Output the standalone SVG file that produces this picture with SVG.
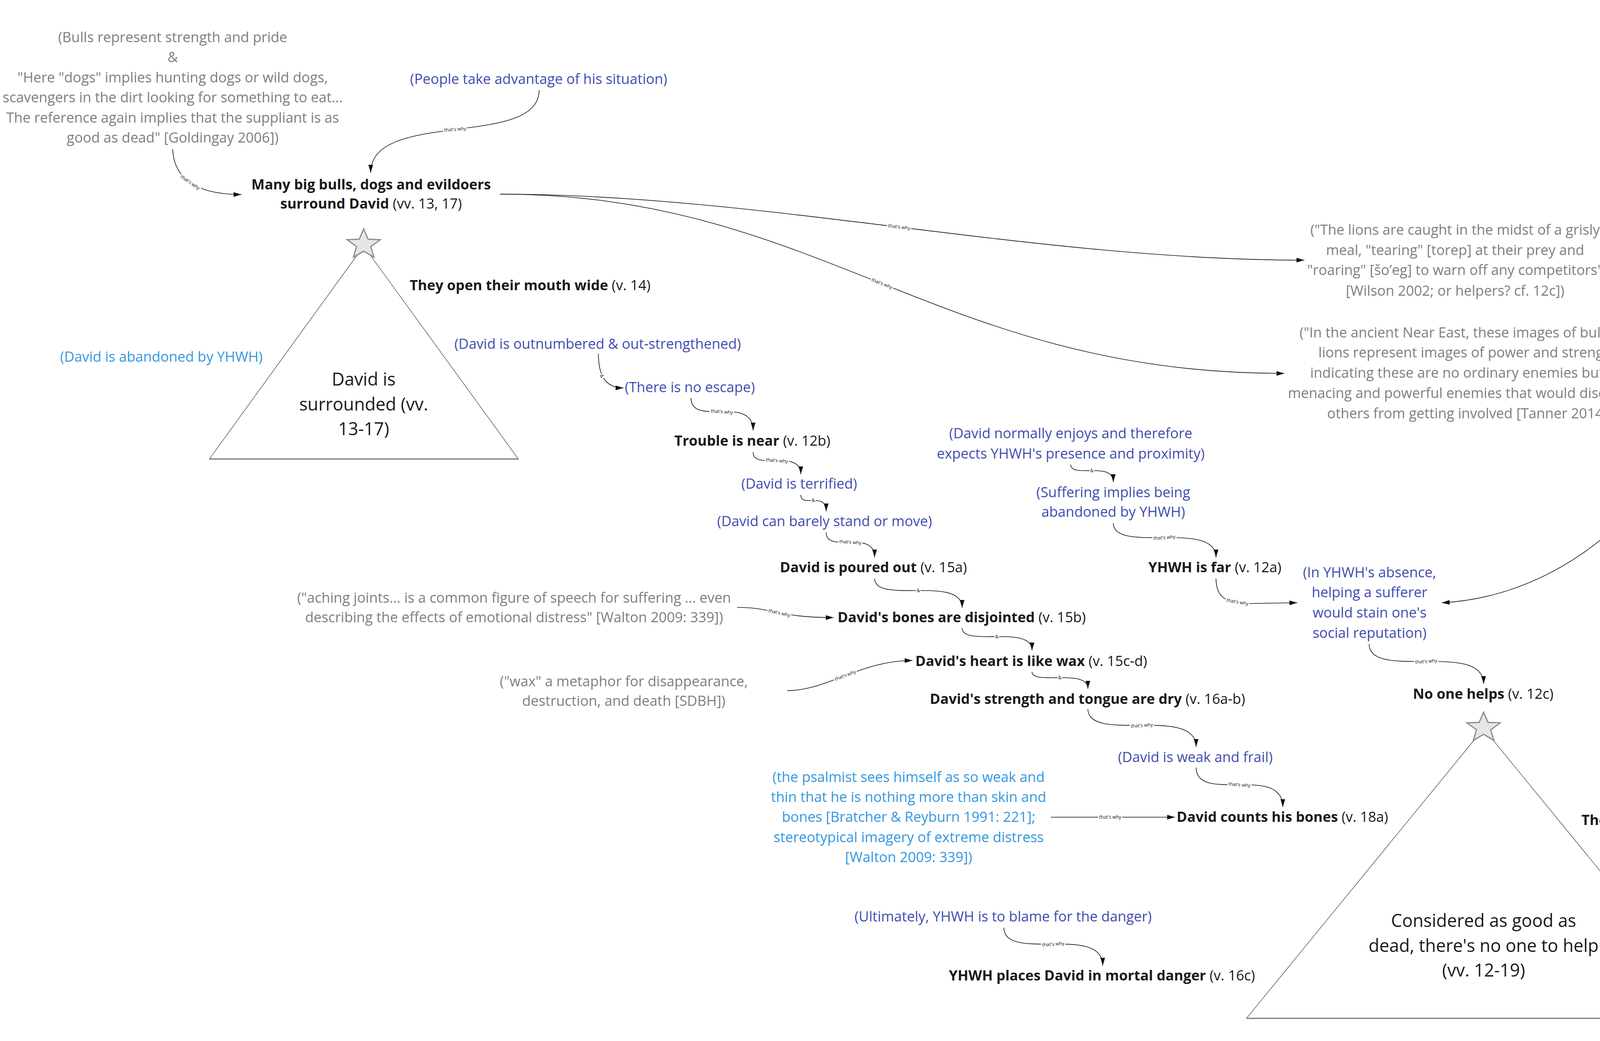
<svg xmlns="http://www.w3.org/2000/svg" xmlns:xlink="http://www.w3.org/1999/xlink" width="6002" height="2665" viewBox="0 0 6002 2665">
<style>
.t{font-family:"Open Sans","Liberation Sans",sans-serif;font-size:36px;text-anchor:middle}
.b{font-weight:700}
.k{fill:#1a1a1a}
.note{fill:#808080}
.ind{fill:#3f4db0}
.lb{fill:#3498e0}
.big{font-size:45px;fill:#1a1a1a}
.edge{fill:none;stroke:#111;stroke-width:1.6;marker-end:url(#ah)}
.lbl{font-family:"Open Sans","Liberation Sans",sans-serif;font-size:12px;text-anchor:middle;fill:#111}
.bg{fill:#fff}
.tri{fill:#fff;stroke:#444;stroke-width:1.3}
.base{stroke:#777;stroke-width:3}
.star{fill:#e6e6e6;stroke:#8a8a8a;stroke-width:3;stroke-linejoin:miter}
</style>
<defs>
<marker id="ah" markerUnits="userSpaceOnUse" markerWidth="22" markerHeight="12" refX="20" refY="6" orient="auto"><path d="M0,0 L20,6 L0,12 z" fill="#111"/></marker>
<path id="starshape" class="star" d="M0,-40 L11.2,-13.8 L42.6,-12.4 L18.1,5.3 L26.3,32.4 L0,17 L-26.3,32.4 L-18.1,5.3 L-42.6,-12.4 L-11.2,-13.8 Z"/>
<g id="tw"><rect class="bg" x="-31" y="-8" width="62" height="15"/><text class="lbl" y="4">that's why</text></g>
<g id="amp"><rect class="bg" x="-6" y="-8" width="12" height="15"/><text class="lbl" y="4">&amp;</text></g>
</defs>
<rect width="6002" height="2665" fill="#fff"/>

<g id="connectors">
<path class="edge" d="M442,382 C445,455 500,498 618,498"/>
<use href="#tw" transform="translate(487,467) rotate(35)"/>
<path class="edge" d="M1380,231 C1380,380 949,280 949,442"/>
<use href="#tw" transform="translate(1165,331) rotate(-4)"/>
<path class="edge" d="M1280,497 C1950,497 2650,666 3339,666"/>
<use href="#tw" transform="translate(2302,581) rotate(7)"/>
<path class="edge" d="M1280,497 C2100,497 2400,956 3288,956"/>
<use href="#tw" transform="translate(2258,726) rotate(22)"/>
<path class="edge" d="M4110,666 C4300,666 4346,760 4346,840 C4346,910 4300,956 4238,956"/>
<use href="#amp" transform="translate(4331,767) rotate(65)"/>
<path class="edge" d="M4240,956 C4345,960 4345,1060 4300,1140 C4180,1360 3950,1530 3691,1543"/>
<use href="#tw" transform="translate(4222,1253) rotate(-52)"/>
<path class="edge" d="M1532,905 C1532,955 1545,993 1596,993"/>
<use href="#amp" transform="translate(1541,963) rotate(70)"/>
<path class="edge" d="M1769,1019 C1769,1094 1928,1009 1928,1102"/>
<use href="#tw" transform="translate(1848,1054) rotate(4)"/>
<path class="edge" d="M1928,1158 C1928,1206 2050,1148 2050,1214"/>
<use href="#tw" transform="translate(1989,1179) rotate(4)"/>
<path class="edge" d="M2050,1267 C2050,1301 2115,1257 2115,1309"/>
<use href="#amp" transform="translate(2082,1281)"/>
<path class="edge" d="M2115,1363 C2115,1419 2239,1353 2239,1427"/>
<use href="#tw" transform="translate(2177,1388) rotate(4)"/>
<path class="edge" d="M2239,1481 C2239,1548 2463,1471 2463,1556"/>
<use href="#amp" transform="translate(2351,1512)"/>
<path class="edge" d="M2463,1608 C2463,1657 2642,1598 2642,1665"/>
<use href="#amp" transform="translate(2552,1630)"/>
<path class="edge" d="M2642,1720 C2642,1755 2785,1710 2785,1763"/>
<use href="#amp" transform="translate(2713,1735)"/>
<path class="edge" d="M2785,1815 C2785,1904 3062,1805 3062,1912"/>
<use href="#tw" transform="translate(2923,1857) rotate(-4)"/>
<path class="edge" d="M3062,1965 C3062,2058 3284,1955 3284,2066"/>
<use href="#tw" transform="translate(3173,2009) rotate(4)"/>
<path class="edge" d="M2690,2092 L3008,2092"/>
<use href="#tw" transform="translate(2842,2092)"/>
<path class="edge" d="M2570,2375 C2570,2464 2823,2365 2823,2472"/>
<use href="#tw" transform="translate(2696,2417) rotate(-4)"/>
<path class="edge" d="M2741,1189 C2741,1226 2850,1179 2850,1234"/>
<use href="#amp" transform="translate(2795,1205)"/>
<path class="edge" d="M2850,1339 C2850,1419 3113,1329 3113,1427"/>
<use href="#tw" transform="translate(2981,1376) rotate(-4)"/>
<path class="edge" d="M3113,1481 C3113,1530 3140,1545 3200,1545 L3321,1543"/>
<use href="#tw" transform="translate(3168,1541) rotate(10)"/>
<path class="edge" d="M1887,1555 C1980,1555 1990,1581 2134,1581"/>
<use href="#tw" transform="translate(1995,1569) rotate(13)"/>
<path class="edge" d="M2015,1768 C2120,1768 2200,1691 2336,1691"/>
<use href="#tw" transform="translate(2164,1729) rotate(-21)"/>
<path class="edge" d="M5399,2018 C5399,2112 5201,2056 5201,2148"/>
<use href="#tw" transform="translate(5300,2084) rotate(-11)"/>
<path class="edge" d="M5488,1768 C5488,1850 5399,1830 5399,1910"/>
<use href="#amp" transform="translate(5443,1840) rotate(-50)"/>
<path class="edge" d="M5201,2204 C5201,2285 5120,2286 5020,2276 C4900,2262 4740,2240 4737,2348"/>
<use href="#tw" transform="translate(5019,2274) rotate(6)"/>
<path class="edge" d="M3505,1649 C3505,1743 3798,1639 3798,1751"/>
<use href="#tw" transform="translate(3651,1693) rotate(-4)"/>
</g>

<g id="n-bulls-note" class="t note">
<text x="442" y="108">(Bulls represent strength and pride</text>
<text x="442" y="159">&amp;</text>
<text x="442" y="211">"Here "dogs" implies hunting dogs or wild dogs,</text>
<text x="442" y="262">scavengers in the dirt looking for something to eat...</text>
<text x="442" y="314">The reference again implies that the suppliant is as</text>
<text x="442" y="365">good as dead" [Goldingay 2006])</text>
</g>
<g id="n-people" class="t ind"><text x="1379" y="215">(People take advantage of his situation)</text></g>
<g id="n-main" class="t k">
<text x="950" y="485" class="b">Many big bulls, dogs and evildoers</text>
<text x="950" y="534"><tspan class="b">surround David</tspan> (vv. 13, 17)</text>
</g>
<g id="n-surrounded">
<polygon class="tri" points="931,630 536,1175 1327,1175"/>
<line class="base" x1="536" y1="1175" x2="1327" y2="1175"/>
<use href="#starshape" transform="translate(931,626)"/>
<text class="t big" x="931" y="987">David is</text>
<text class="t big" x="931" y="1051">surrounded (vv.</text>
<text class="t big" x="931" y="1114">13-17)</text>
</g>
<g id="n-mouth" class="t k"><text x="1357" y="743"><tspan class="b">They open their mouth wide</tspan> (v. 14)</text></g>
<g id="n-abandoned" class="t lb"><text x="413" y="926">(David is abandoned by YHWH)</text></g>
<g id="n-outnumbered" class="t ind"><text x="1530" y="893">(David is outnumbered &amp; out-strengthened)</text></g>
<g id="n-noescape" class="t ind"><text x="1766" y="1004">(There is no escape)</text></g>
<g id="n-trouble" class="t k"><text x="1926" y="1141"><tspan class="b">Trouble is near</tspan> (v. 12b)</text></g>
<g id="n-terrified" class="t ind"><text x="2046" y="1251">(David is terrified)</text></g>
<g id="n-barely" class="t ind"><text x="2111" y="1347">(David can barely stand or move)</text></g>
<g id="n-poured" class="t k"><text x="2236" y="1465"><tspan class="b">David is poured out</tspan> (v. 15a)</text></g>
<g id="n-aching" class="t note">
<text x="1316" y="1543">("aching joints... is a common figure of speech for suffering ... even</text>
<text x="1316" y="1593">describing the effects of emotional distress" [Walton 2009: 339])</text>
</g>
<g id="n-bones" class="t k"><text x="2462" y="1593"><tspan class="b">David's bones are disjointed</tspan> (v. 15b)</text></g>
<g id="n-heart" class="t k"><text x="2640" y="1705"><tspan class="b">David's heart is like wax</tspan> (v. 15c-d)</text></g>
<g id="n-wax" class="t note">
<text x="1597" y="1757">("wax" a metaphor for disappearance,</text>
<text x="1597" y="1807">destruction, and death [SDBH])</text>
</g>
<g id="n-strength" class="t k"><text x="2784" y="1802"><tspan class="b">David's strength and tongue are dry</tspan> (v. 16a-b)</text></g>
<g id="n-weak" class="t ind"><text x="3060" y="1951">(David is weak and frail)</text></g>
<g id="n-psalmist" class="t lb">
<text x="2326" y="2002">(the psalmist sees himself as so weak and</text>
<text x="2326" y="2053">thin that he is nothing more than skin and</text>
<text x="2326" y="2104">bones [Bratcher &amp; Reyburn 1991: 221];</text>
<text x="2326" y="2156">stereotypical imagery of extreme distress</text>
<text x="2326" y="2207">[Walton 2009: 339])</text>
</g>
<g id="n-counts" class="t k"><text x="3283" y="2104"><tspan class="b">David counts his bones</tspan> (v. 18a)</text></g>
<g id="n-ultimately" class="t ind"><text x="2568" y="2359">(Ultimately, YHWH is to blame for the danger)</text></g>
<g id="n-mortal" class="t k"><text x="2821" y="2510"><tspan class="b">YHWH places David in mortal danger</tspan> (v. 16c)</text></g>
<g id="n-normally" class="t ind">
<text x="2741" y="1122">(David normally enjoys and therefore</text>
<text x="2741" y="1174">expects YHWH's presence and proximity)</text>
</g>
<g id="n-suffering" class="t ind">
<text x="2850" y="1273">(Suffering implies being</text>
<text x="2850" y="1323">abandoned by YHWH)</text>
</g>
<g id="n-far" class="t k"><text x="3110" y="1465"><tspan class="b">YHWH is far</tspan> (v. 12a)</text></g>
<g id="n-lions" class="t note">
<text x="3725" y="601">("The lions are caught in the midst of a grisly</text>
<text x="3725" y="653">meal, "tearing" [torep] at their prey and</text>
<text x="3725" y="704">"roaring" [šo’eg] to warn off any competitors"</text>
<text x="3725" y="757">[Wilson 2002; or helpers? cf. 12c])</text>
</g>
<g id="n-neareast" class="t note">
<text x="3762" y="864">("In the ancient Near East, these images of bulls and</text>
<text x="3762" y="915">lions represent images of power and strength,</text>
<text x="3762" y="967">indicating these are no ordinary enemies but are</text>
<text x="3762" y="1019">menacing and powerful enemies that would discourage</text>
<text x="3762" y="1071">others from getting involved [Tanner 2014])</text>
</g>
<g id="n-absence" class="t ind">
<text x="3506" y="1478">(In YHWH's absence,</text>
<text x="3506" y="1529">helping a sufferer</text>
<text x="3506" y="1581">would stain one's</text>
<text x="3506" y="1633">social reputation)</text>
</g>
<g id="n-noonehelps" class="t k"><text x="3797" y="1789"><tspan class="b">No one helps</tspan> (v. 12c)</text></g>
<g id="n-goodasdead">
<polygon class="tri" points="3798,1865 3191,2607 4405,2607"/>
<line class="base" x1="3191" y1="2607" x2="4405" y2="2607"/>
<use href="#starshape" transform="translate(3798,1863)"/>
<text class="t big" x="3798" y="2373">Considered as good as</text>
<text class="t big" x="3798" y="2437">dead, there's no one to help</text>
<text class="t big" x="3798" y="2500">(vv. 12-19)</text>
</g>
<g id="n-onlookers" class="t k"><text x="4383" y="2112"><tspan class="b">The onlookers look and gaze</tspan> (v. 18b-c)</text></g>
<g id="n-divide" class="t k"><text x="4735" y="2391"><tspan class="b">They divide David's clothes among themselves</tspan> (v. 19)</text></g>
<g id="n-peoples" class="t note">
<text x="5488" y="1649">("people's looking on with satisfaction as these scavengers</text>
<text x="5488" y="1701">anticipate profiting from the suppliant's actual death"</text>
<text x="5488" y="1752">[Goldingay 2006])</text>
</g>
<g id="n-sick" class="t note">
<text x="5399" y="1950">("though the sick person is not yet dead, they are already</text>
<text x="5399" y="2002">dividing up his clothes (v 19), as if he were deceased" [Craigie 2004])</text>
</g>
<g id="n-considered" class="t ind"><text x="5200" y="2190">(David is considered as good as dead)</text></g>
</svg>
